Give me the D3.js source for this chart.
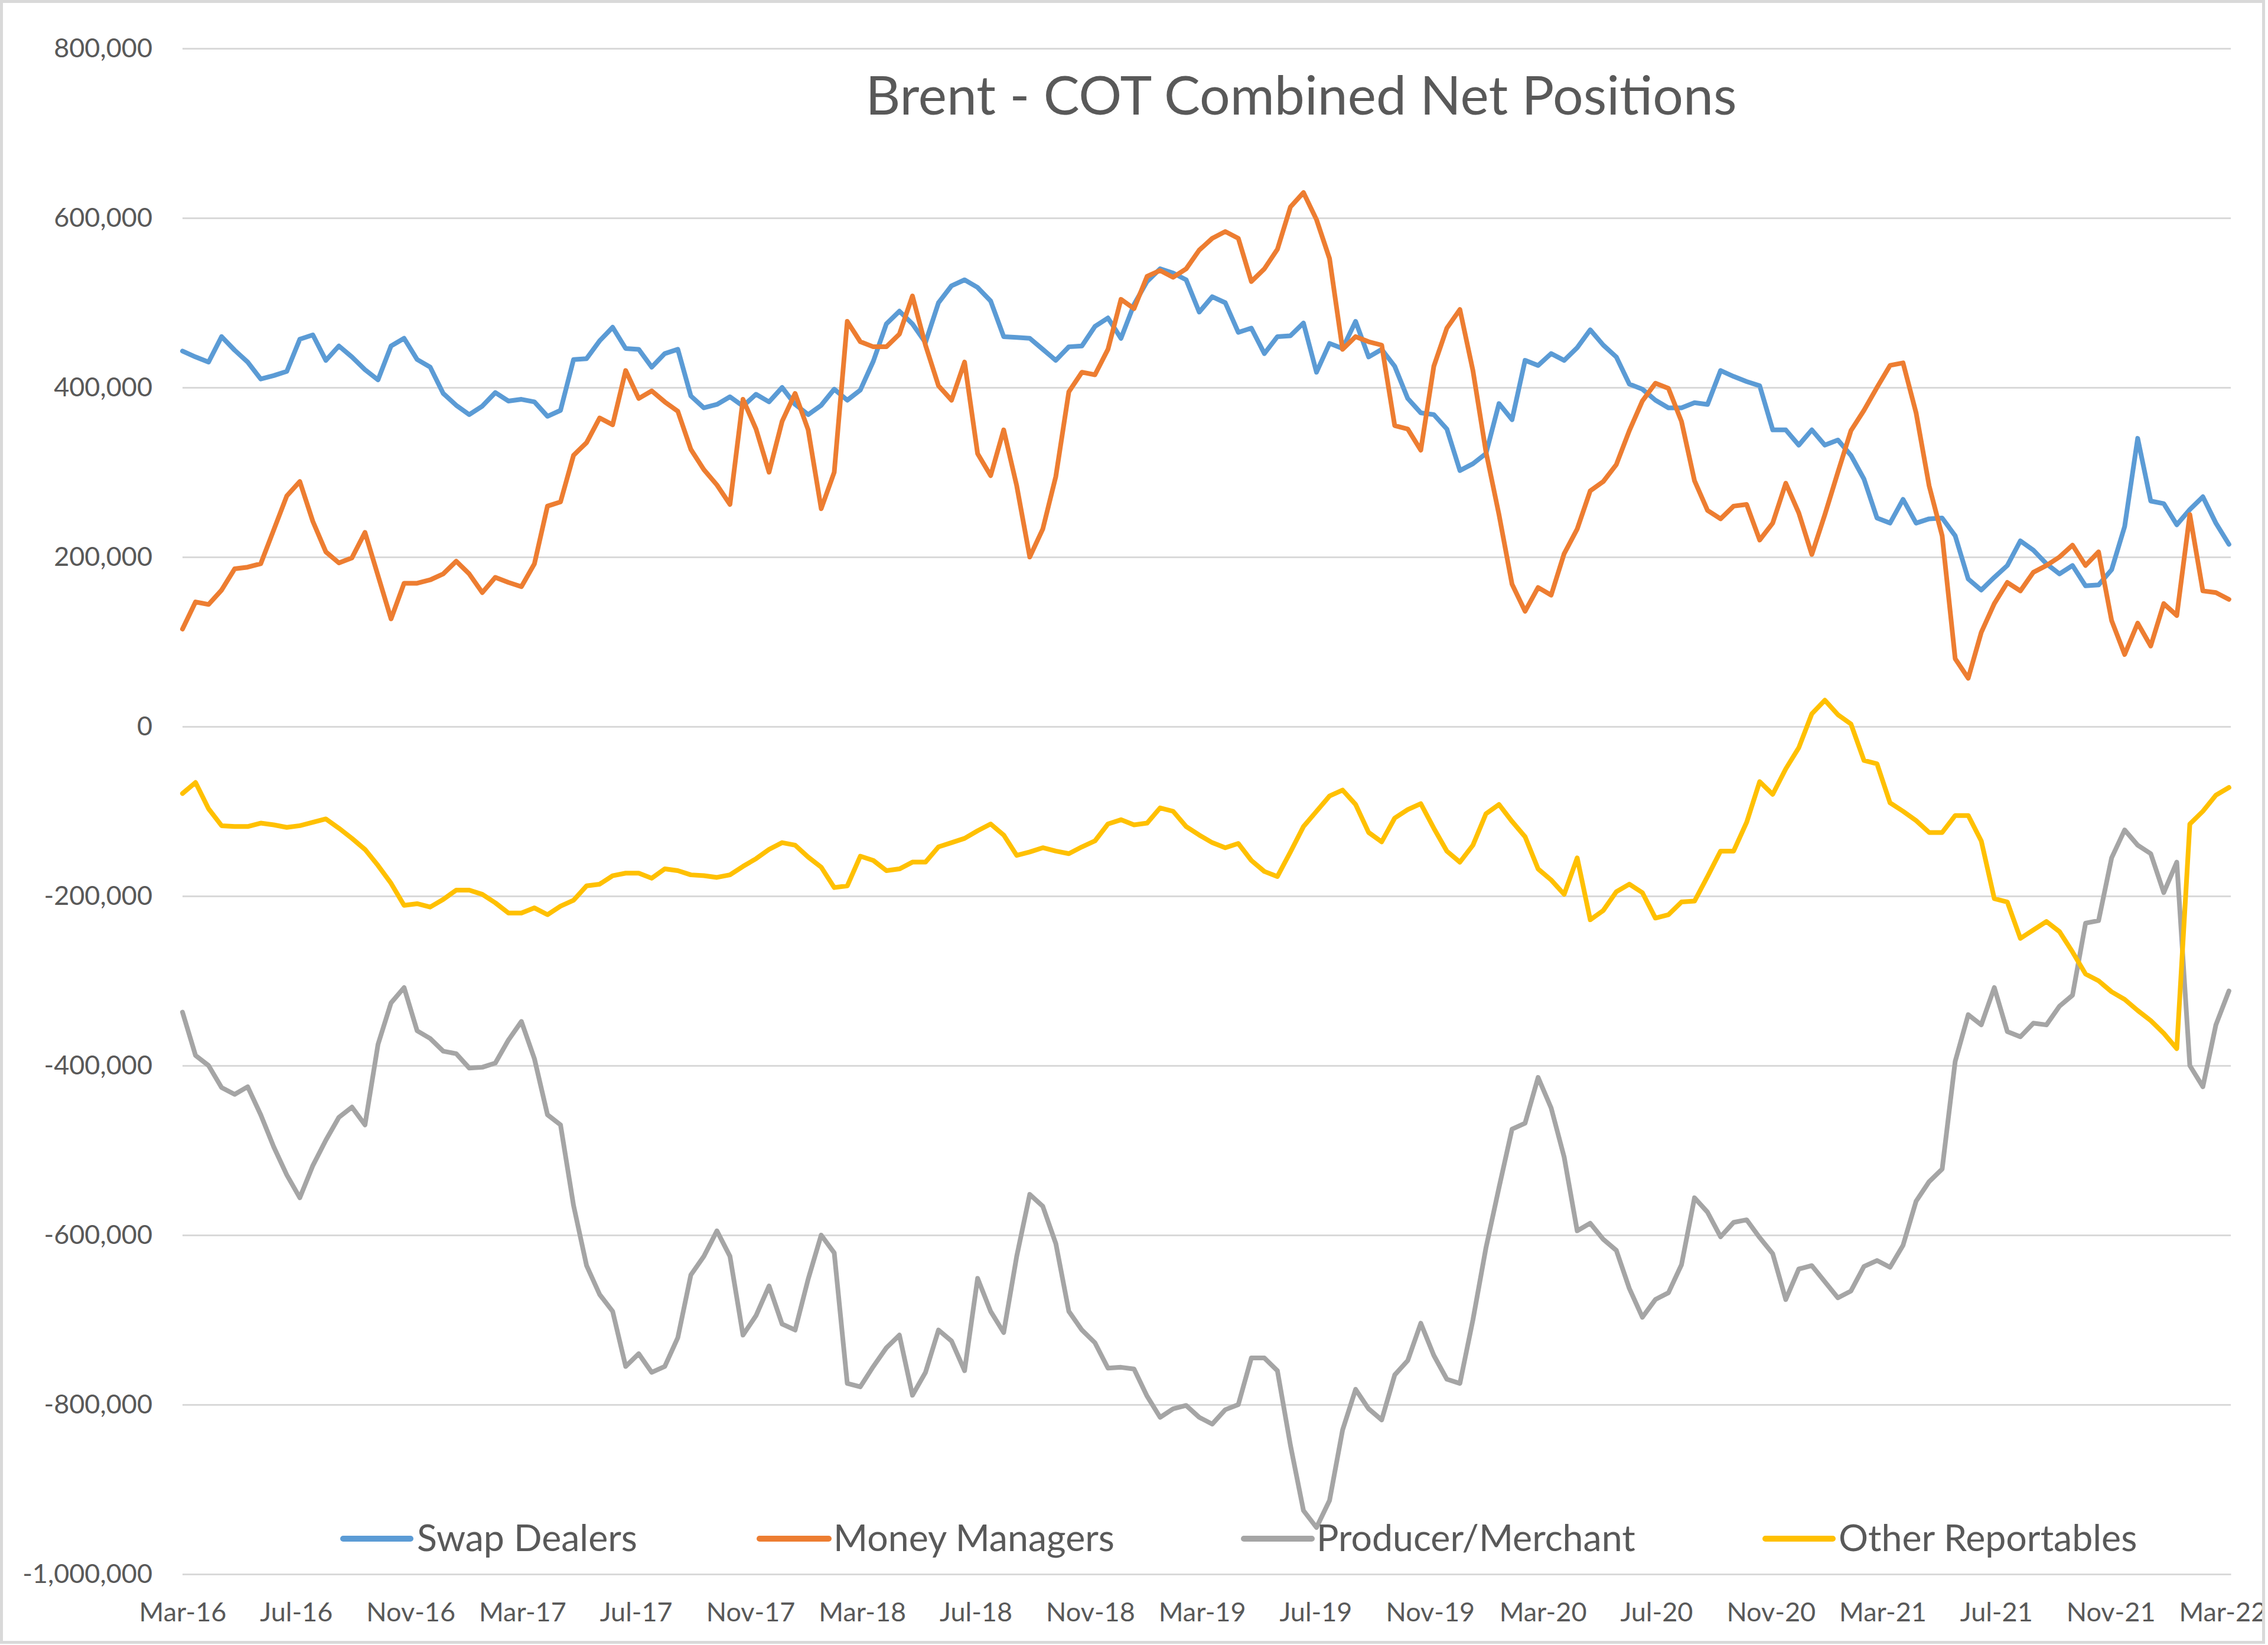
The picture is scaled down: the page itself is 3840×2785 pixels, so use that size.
<!DOCTYPE html>
<html>
<head>
<meta charset="utf-8">
<script src="https://cdn.jsdelivr.net/npm/d3@7"></script>
<style>
  html, body { margin: 0; padding: 0; background: #ffffff; }
  svg { display: block; }
</style>
</head>
<body>
<svg id="chart" width="3840" height="2785"></svg>
<script>
// ---------------- DATA ----------------
const chartTitle = "Brent - COT Combined Net Positions";
// categories: fortnightly report dates, starting 1 Mar 2016
const firstDate = "2016-03-01";
const stepDays = 14;
const seriesNames = ["Swap Dealers", "Money Managers", "Producer/Merchant", "Other Reportables"];
const xTickLabels = ["Mar-16","Jul-16","Nov-16","Mar-17","Jul-17","Nov-17","Mar-18","Jul-18","Nov-18",
  "Mar-19","Jul-19","Nov-19","Mar-20","Jul-20","Nov-20","Mar-21","Jul-21","Nov-21","Mar-22"];
const yTickValues = [-1000000,-800000,-600000,-400000,-200000,0,200000,400000,600000,800000];

// net positions, thousands of contracts
const swapDealers = [
  443,436,430,460,444,430,410,414,419,457,462,432,449,436,421,409,449,458,433,424,
  393,379,368,378,394,384,386,383,366,373,433,434,455,471,446,445,424,440,445,390,376,
  380,389,378,392,383,400,380,368,379,398,385,397,431,475,490,475,453,500,520,527,
  518,502,460,459,458,445,432,448,449,472,482,458,498,525,540,535,527,489,507,500,
  465,470,440,460,461,476,418,452,446,478,436,445,425,387,370,368,351,302,310,322,
  381,362,432,426,440,432,447,468,450,436,404,398,385,376,376,382,380,420,413,407,402,
  350,350,332,350,332,338,320,292,246,240,268,240,245,246,225,174,161,176,190,219,
  208,192,180,190,166,167,185,236,340,266,263,238,256,271,240,215];
const moneyManagers = [
  115,147,144,161,186,188,192,232,272,289,242,206,193,199,229,178,127,169,169,173,
  180,195,180,158,176,170,165,192,260,265,320,335,364,356,420,387,396,383,372,327,303,
  285,262,386,351,300,360,393,350,257,300,478,454,448,448,463,508,450,402,385,430,
  322,296,350,284,200,233,295,395,418,415,445,504,493,531,538,530,540,562,576,584,
  576,525,540,563,613,630,598,552,445,460,454,450,355,351,326,425,470,492,420,324,
  250,168,136,164,155,204,233,278,289,309,349,384,405,399,360,290,255,245,260,262,220,
  240,287,252,203,250,300,349,373,400,426,429,370,284,225,80,57,111,145,170,160,
  182,190,200,214,190,206,125,85,122,95,145,131,250,160,158,150];
const producerMerchant = [
  -337,-388,-400,-426,-434,-425,-458,-496,-529,-556,-518,-488,-461,-449,-470,-375,-326,-308,-359,-368,
  -383,-386,-403,-402,-397,-370,-348,-392,-458,-470,-565,-636,-670,-690,-755,-740,-762,-755,-721,-647,-625,
  -595,-625,-718,-695,-660,-705,-712,-652,-600,-621,-775,-779,-755,-733,-718,-789,-762,-712,-725,-760,
  -651,-690,-715,-625,-552,-566,-610,-690,-712,-727,-757,-756,-758,-790,-815,-805,-801,-815,-823,-806,
  -800,-745,-745,-760,-848,-925,-945,-913,-830,-782,-805,-818,-765,-748,-704,-742,-770,-775,-700,-615,
  -544,-475,-468,-414,-450,-508,-595,-586,-605,-618,-663,-697,-676,-668,-635,-556,-573,-602,-585,-582,-603,
  -622,-676,-640,-636,-655,-674,-666,-637,-630,-638,-612,-560,-537,-522,-395,-340,-352,-308,-360,-366,
  -350,-352,-330,-317,-232,-229,-155,-122,-140,-150,-196,-160,-400,-425,-352,-312];
const otherReportables = [
  -79,-66,-97,-117,-118,-118,-114,-116,-119,-117,-113,-109,-120,-132,-145,-164,-185,-211,-209,-213,
  -204,-193,-193,-198,-208,-220,-220,-214,-222,-212,-205,-188,-186,-176,-173,-173,-179,-168,-170,-175,-176,
  -178,-175,-165,-156,-145,-137,-140,-154,-166,-190,-188,-153,-158,-170,-168,-160,-160,-142,-137,-132,
  -123,-115,-128,-152,-148,-143,-147,-150,-142,-135,-115,-110,-116,-114,-96,-100,-118,-128,-137,-143,
  -138,-158,-171,-177,-148,-118,-100,-82,-75,-92,-125,-136,-108,-98,-91,-120,-147,-160,-140,-103,
  -92,-112,-130,-168,-181,-198,-155,-228,-217,-195,-186,-196,-226,-222,-207,-206,-177,-147,-147,-113,-65,
  -80,-50,-25,15,31,14,3,-40,-44,-90,-100,-111,-125,-125,-105,-105,-135,-203,-207,-250,
  -240,-230,-242,-266,-292,-300,-313,-322,-335,-347,-362,-380,-115,-100,-81,-72];

// ---------------- STYLE ----------------
const seriesColors = ["#5B9BD5", "#ED7D31", "#A5A5A5", "#FFC000"];
const textColor = "#595959";
const gridColor = "#D9D9D9";
const fontFamily = "Lato, 'Open Sans', 'Liberation Sans', sans-serif";

// ---------------- LAYOUT ----------------
const W = 3840, H = 2785;
const plot = { left: 309, right: 3777, top: 82, bottom: 2665 };

const svg = d3.select("#chart");
const defs = svg.append("defs");
defs.append("clipPath").attr("id", "chartClip")
  .append("rect").attr("x", 0).attr("y", 0).attr("width", 3830).attr("height", H);

svg.append("rect").attr("x", 0).attr("y", 0).attr("width", W).attr("height", H).attr("fill", "#ffffff");
const root = svg.append("g").attr("clip-path", "url(#chartClip)");

const parseDay = d3.timeParse("%Y-%m-%d");
const parseTick = d3.timeParse("%b-%y");
const start = parseDay(firstDate);
const dates = swapDealers.map((_, i) => d3.timeDay.offset(start, i * stepDays));

const x = d3.scaleTime()
  .domain([start, d3.timeDay.offset(start, 2200)])
  .range([plot.left, plot.right]);
const y = d3.scaleLinear()
  .domain([-1000, 800])
  .range([plot.bottom, plot.top]);

const loc = d3.formatLocale({ decimal: ".", thousands: ",", grouping: [3], currency: ["", ""], minus: "-" });
const fmt = loc.format(",");

// Y axis with gridlines
const yAxis = d3.axisLeft(y)
  .tickValues(yTickValues.map(v => v / 1000))
  .tickSize(-(plot.right - plot.left))
  .tickPadding(51)
  .tickFormat(d => fmt(Math.round(d * 1000)));
const gy = root.append("g").attr("transform", `translate(${plot.left},0)`).call(yAxis);
gy.select(".domain").remove();
gy.selectAll(".tick line").attr("stroke", gridColor).attr("stroke-width", 3);
gy.selectAll(".tick text")
  .attr("fill", textColor).attr("font-family", fontFamily).attr("font-size", 45);

// X axis
const xAxis = d3.axisBottom(x)
  .tickValues(xTickLabels.map(s => parseTick(s)))
  .tickSize(0)
  .tickPadding(48)
  .tickFormat(d3.timeFormat("%b-%y"));
const gx = root.append("g").attr("transform", `translate(0,${plot.bottom})`).call(xAxis);
gx.select(".domain").attr("stroke", gridColor).attr("stroke-width", 3);
gx.selectAll(".tick text")
  .attr("fill", textColor).attr("font-family", fontFamily).attr("font-size", 45);

// Title
const titleText = root.append("text")
  .attr("x", 2203).attr("y", 194)
  .attr("text-anchor", "middle")
  .attr("fill", textColor)
  .attr("font-family", fontFamily)
  .attr("font-size", 100)
  .text(chartTitle);
{
  const w = titleText.node().getComputedTextLength();
  titleText.attr("font-size", 100 * 1475 / w);
}

// Series lines
const allSeries = [swapDealers, moneyManagers, producerMerchant, otherReportables];
const line = d3.line()
  .x((d, i) => x(dates[i]))
  .y(d => y(d));
allSeries.forEach((vals, k) => {
  root.append("path")
    .datum(vals)
    .attr("fill", "none")
    .attr("stroke", seriesColors[k])
    .attr("stroke-width", 8)
    .attr("stroke-linejoin", "round")
    .attr("stroke-linecap", "round")
    .attr("d", line);
});

// Legend
const legendItems = [
  { lx0: 581, lx1: 695, tx: 706 },
  { lx0: 1286, lx1: 1403, tx: 1411 },
  { lx0: 2106, lx1: 2221, tx: 2229 },
  { lx0: 2989, lx1: 3103, tx: 3113 }
];
const legendTargetTotal = 367 + 480 + 543 + 504;
const lg = root.append("g");
const legendTexts = [];
seriesNames.forEach((name, k) => {
  const it = legendItems[k];
  lg.append("line")
    .attr("x1", it.lx0).attr("x2", it.lx1)
    .attr("y1", 2605).attr("y2", 2605)
    .attr("stroke", seriesColors[k]).attr("stroke-width", 10)
    .attr("stroke-linecap", "round");
  const t = lg.append("text")
    .attr("x", it.tx).attr("y", 2626)
    .attr("fill", textColor).attr("font-family", fontFamily)
    .attr("font-size", 60)
    .text(name);
  legendTexts.push(t);
});
{
  const total = legendTexts.reduce((s, t) => s + t.node().getComputedTextLength(), 0);
  const fs = 60 * legendTargetTotal / total;
  legendTexts.forEach(t => t.attr("font-size", fs));
}

// Chart border
svg.append("rect")
  .attr("x", 2.5).attr("y", 2.5)
  .attr("width", 3830).attr("height", 2778)
  .attr("fill", "none").attr("stroke", gridColor).attr("stroke-width", 5);
</script>
</body>
</html>
